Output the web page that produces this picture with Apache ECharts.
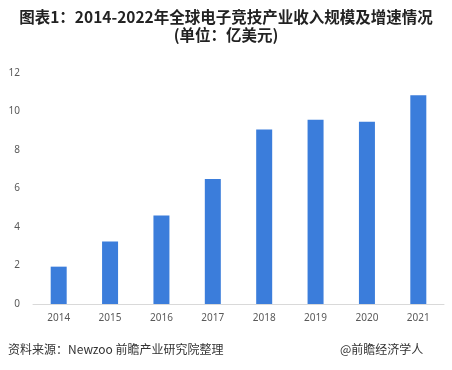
<!DOCTYPE html>
<html>
<head>
<meta charset="utf-8">
<script src="https://cdn.jsdelivr.net/npm/echarts@6/dist/echarts.min.js"></script>
<style>
    html, body { margin: 0; padding: 0; background: #fff; }
    #main { width: 452px; height: 370px; }
</style>
</head>
<body>
<div id="main"></div>
<script>
//年份
var years = ['2014', '2015', '2016', '2017', '2018', '2019', '2020', '2021'];
//收入规模(亿美元)
var revenue = [1.94, 3.25, 4.6, 6.5, 9.06, 9.57, 9.47, 10.84];
//纵轴刻度
var yTicks = [0, 2, 4, 6, 8, 10, 12];

var myBar = echarts.init(document.getElementById('main'));

var option = {
    animation: false,
    title: {
        text: '图表1：2014-2022年全球电子竞技产业收入规模及增速情况\n(单位：亿美元)',
        left: 'center',
        top: 3,
        textStyle: {
            color: '#222',
            fontSize: 15.5,
            fontWeight: 'bold',
            fontFamily: 'Noto Sans CJK SC',
            lineHeight: 18
        }
    },
    grid: {
        left: 33,
        right: 8,
        top: 73,
        bottom: 66
    },
    xAxis: {
        type: 'category',
        data: years,
        axisTick: { show: false },
        axisLine: {
            lineStyle: { color: '#d9d9d9', width: 1 }
        },
        axisLabel: {
            color: '#595959',
            fontSize: 10,
            fontFamily: 'Noto Sans',
            margin: 9
        }
    },
    yAxis: {
        type: 'value',
        min: yTicks[0],
        max: yTicks[yTicks.length - 1],
        interval: yTicks[1] - yTicks[0],
        axisLine: { show: false },
        axisTick: { show: false },
        splitLine: { show: false },
        axisLabel: {
            color: '#595959',
            fontSize: 10,
            fontFamily: 'Noto Sans',
            margin: 13
        }
    },
    series: [{
        type: 'bar',
        barWidth: 16,
        itemStyle: { color: '#3b7ddb' },
        data: revenue
    }],
    graphic: [
        {
            type: 'text',
            left: 8,
            top: 343,
            style: {
                text: '资料来源：Newzoo 前瞻产业研究院整理',
                fill: '#333',
                font: '12px "Noto Sans CJK SC"'
            }
        },
        {
            type: 'text',
            left: 340,
            top: 343,
            style: {
                text: '@前瞻经济学人',
                fill: '#333',
                font: '12px "Noto Sans CJK SC"'
            }
        }
    ]
};

myBar.setOption(option);
</script>
</body>
</html>
